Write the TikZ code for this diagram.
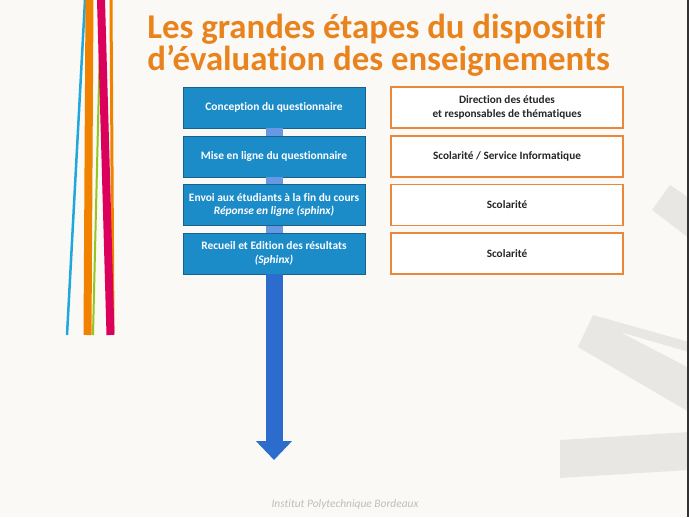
\documentclass[tikz,border=0pt]{standalone}
\usepackage{fontspec}
\setmainfont{Carlito}[Ligatures=NoCommon]
\usetikzlibrary{positioning, arrows.meta}
\definecolor{bgcream}{RGB}{250,249,245}
\definecolor{markgray}{RGB}{233,231,227}
\definecolor{titleorange}{RGB}{233,131,30}
\definecolor{boxblue}{RGB}{28,140,201}
\definecolor{barblue}{RGB}{104,152,226}
\definecolor{flowblue}{RGB}{44,108,204}
\definecolor{boxorange}{RGB}{233,136,58}
\definecolor{stripeblue}{RGB}{30,168,222}
\definecolor{stripeorange}{RGB}{240,130,0}
\definecolor{stripegreen}{RGB}{150,198,30}
\definecolor{stripepink}{RGB}{218,0,92}
\definecolor{footgray}{RGB}{190,190,190}

\begin{document}
\begin{tikzpicture}[x=0.02cm, y=-0.02cm,
		stepbox/.style={fill=boxblue, draw=boxblue!70!black, line width=0.5pt, text=white,
			font=\fontsize{6.5}{7.8}\selectfont\bfseries, minimum width=3.64cm,
			minimum height=0.82cm, inner sep=0pt, align=center},
		whobox/.style={fill=white, draw=boxorange, line width=1.1pt, text=black!85,
			font=\fontsize{6.4}{7.6}\selectfont\bfseries, minimum width=4.64cm,
			minimum height=0.82cm, inner sep=0pt, align=center},
		link/.style={draw=barblue, line width=0.34cm},
		flow/.style={draw=flowblue, line width=0.34cm, -{Triangle[width=0.7cm, length=0.38cm]}}]
		% background and watermark
		\fill[bgcream] (0, 0) rectangle (689, 517);
		\useasboundingbox (0, 0) rectangle (689, 517);
		\fill[markgray] (652, 210) -- (670, 185) -- (689, 198) -- (689, 238) -- cycle;
		\fill[markgray] (578, 347) -- (593, 315) -- (689, 342) -- (689, 352) -- (620, 332)
			-- (689, 368) -- (689, 412) -- cycle;
		\fill[markgray] (560, 440) -- (689, 432) -- (689, 470) -- (560, 478) -- cycle;
		\draw[black!80, line width=0.05cm] (688, 0) -- (688, 517);
		% stripes
		\draw[stripeblue, line width=0.05cm] (85, 0) -- (67, 335);
		\draw[stripegreen, line width=0.04cm] (101, 0) -- (93, 335);
		\draw[stripeorange, line width=0.16cm] (89.5, 0) -- (87.5, 335);
		\draw[stripeorange, line width=0.06cm] (111, 0) -- (113, 333);
		\draw[stripepink, line width=0.16cm] (101, 0) -- (110.5, 335);
		% title
		\node[anchor=base west, inner sep=0pt, text=titleorange, align=left,
			font=\fontsize{19.8}{14.8}\selectfont\bfseries]
			(title) at (147, 71) {Les grandes étapes du dispositif\\d’évaluation des enseignements};
		% steps
		\node[stepbox] (s1) at (274, 107.5) {Conception du questionnaire};
		\node[stepbox] (s2) at (274, 156.5) {Mise en ligne du questionnaire};
		\node[stepbox] (s3) at (274, 205) {Envoi aux étudiants à la fin du cours\\ \textit{Réponse en ligne (sphinx)}};
		\node[stepbox] (s4) at (274, 253.5) {Recueil et Edition des résultats\\ \textit{(Sphinx)}};
		\draw[link] (s1.south) -- (s2.north);
		\draw[link] (s2.south) -- (s3.north);
		\draw[link] (s3.south) -- (s4.north);
		\coordinate (tip) at (274, 460);
		\draw[flow] (s4.south) -- (tip);
		% who does it
		\node[whobox] (w1) at (507, 107.5) {Direction des études\\ et responsables de thématiques};
		\node[whobox] (w2) at (507, 156.5) {Scolarité / Service Informatique};
		\node[whobox] (w3) at (507, 205) {Scolarité};
		\node[whobox] (w4) at (507, 253.5) {Scolarité};
		% footer
		\node[text=footgray, font=\fontsize{6.5}{8}\selectfont\itshape] (foot) at (345, 504) {Institut Polytechnique Bordeaux};
\end{tikzpicture}
\end{document}
